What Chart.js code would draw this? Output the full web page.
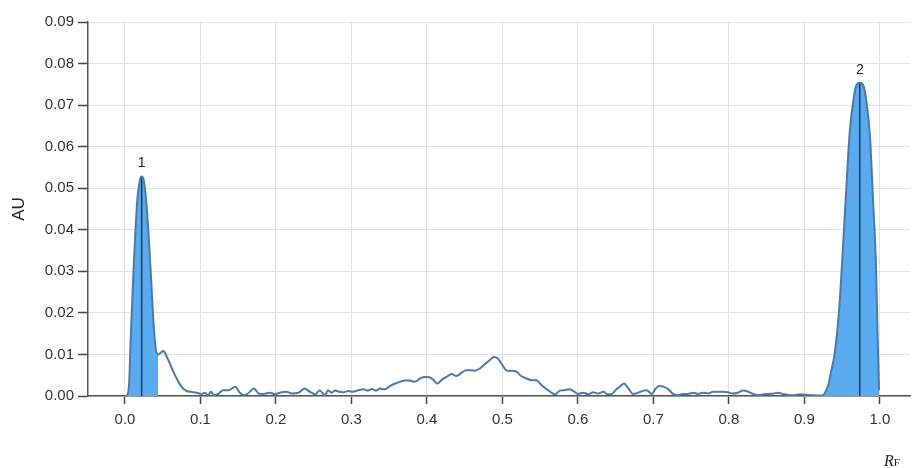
<!DOCTYPE html>
<html>
<head>
<meta charset="utf-8">
<script src="https://cdn.jsdelivr.net/npm/chart.js@4.4.1/dist/chart.umd.min.js"></script>
<style>
  html, body { margin: 0; padding: 0; background: #ffffff; }
  #wrap { width: 913px; height: 468px; position: relative; }
</style>
</head>
<body>
<div id="wrap"><canvas id="densito"></canvas></div>
<script>
// Densitogram scan: retardation factor (RF) vs absorbance units (AU)
const rfValues = [
  0.000, 0.003, 0.0057, 0.0075, 0.0102, 0.0132, 0.0163, 0.0199, 0.0221, 0.0252,
  0.0287, 0.0322, 0.0354, 0.0384, 0.041, 0.0441, 0.0473, 0.0508, 0.0552, 0.0618,
  0.0684, 0.075, 0.0817, 0.088, 0.095, 0.101, 0.106, 0.110, 0.114, 0.118,
  0.124, 0.130, 0.137, 0.146, 0.152, 0.157, 0.163, 0.171, 0.177, 0.183,
  0.192, 0.199, 0.205, 0.214, 0.221, 0.230, 0.238, 0.245, 0.252, 0.258,
  0.265, 0.269, 0.274, 0.278, 0.284, 0.289, 0.296, 0.302, 0.309, 0.316,
  0.321, 0.327, 0.333, 0.338, 0.344, 0.351, 0.358, 0.364, 0.371, 0.377,
  0.384, 0.391, 0.397, 0.403, 0.408, 0.414, 0.419, 0.426, 0.433, 0.439,
  0.446, 0.452, 0.458, 0.464, 0.470, 0.477, 0.483, 0.489, 0.494, 0.499,
  0.506, 0.512, 0.519, 0.525, 0.532, 0.539, 0.545, 0.552, 0.559, 0.565,
  0.570, 0.576, 0.582, 0.589, 0.593, 0.600, 0.607, 0.614, 0.620, 0.627,
  0.634, 0.638, 0.644, 0.651, 0.656, 0.661, 0.667, 0.673, 0.680, 0.687,
  0.691, 0.698, 0.703, 0.708, 0.714, 0.720, 0.726, 0.733, 0.739, 0.746,
  0.753, 0.759, 0.766, 0.773, 0.779, 0.786, 0.792, 0.799, 0.805, 0.812,
  0.819, 0.826, 0.832, 0.839, 0.846, 0.852, 0.859, 0.865, 0.874, 0.881,
  0.887, 0.894, 0.901, 0.910, 0.918, 0.925, 0.928, 0.932, 0.935, 0.940,
  0.946, 0.951, 0.956, 0.960, 0.965, 0.969, 0.9735, 0.978, 0.982, 0.987,
  0.991, 0.995, 0.997, 0.999
];
const auValues = [
  0.0000, 0.0002, 0.0038, 0.0135, 0.0255, 0.0375, 0.0472, 0.0520, 0.0528, 0.0516,
  0.0456, 0.0359, 0.0255, 0.0159, 0.0111, 0.0100, 0.0104, 0.0108, 0.0095, 0.0068,
  0.0042, 0.0022, 0.0012, 0.0010, 0.0008, 0.0005, 0.0008, 0.0002, 0.0010, 0.0002,
  0.0006, 0.0014, 0.0014, 0.0022, 0.0008, 0.0002, 0.0006, 0.0018, 0.0006, 0.0005,
  0.0008, 0.0004, 0.0008, 0.0010, 0.0006, 0.0008, 0.0018, 0.0010, 0.0004, 0.0013,
  0.0002, 0.0014, 0.0008, 0.0013, 0.0010, 0.0009, 0.0012, 0.0010, 0.0014, 0.0016,
  0.0013, 0.0017, 0.0013, 0.0018, 0.0016, 0.0024, 0.0030, 0.0034, 0.0037, 0.0037,
  0.0034, 0.0042, 0.0046, 0.0045, 0.0040, 0.0030, 0.0038, 0.0046, 0.0053, 0.0048,
  0.0056, 0.0062, 0.0062, 0.0061, 0.0066, 0.0077, 0.0086, 0.0094, 0.0090, 0.0077,
  0.0061, 0.0061, 0.0058, 0.0048, 0.0042, 0.0038, 0.0038, 0.0026, 0.0016, 0.0008,
  0.0004, 0.0013, 0.0014, 0.0016, 0.0013, 0.0005, 0.0008, 0.0004, 0.0009, 0.0006,
  0.0010, 0.0005, 0.0004, 0.0016, 0.0023, 0.0030, 0.0018, 0.0005, 0.0008, 0.0013,
  0.0014, 0.0005, 0.0018, 0.0024, 0.0022, 0.0016, 0.0005, 0.0002, 0.0005, 0.0005,
  0.0008, 0.0005, 0.0008, 0.0006, 0.0010, 0.0010, 0.0010, 0.0009, 0.0006, 0.0008,
  0.0013, 0.0010, 0.0005, 0.0002, 0.0004, 0.0005, 0.0006, 0.0008, 0.0004, 0.0002,
  0.0002, 0.0004, 0.0003, 0.0002, 0.0001, 0.0002, 0.0010, 0.0028, 0.0055, 0.0100,
  0.0205, 0.0351, 0.0512, 0.0632, 0.0712, 0.0748, 0.0754, 0.0748, 0.0712, 0.0624,
  0.0472, 0.0311, 0.0151, 0.0014
];

// Integrated peak windows (RF from/to) and their apex positions
const peakNames = ['1', '2'];
const peakStart = [0.003, 0.925];
const peakEnd = [0.0441, 0.999];
const peakApexRf = [0.0221, 0.9735];
const peakApexAu = [0.0528, 0.0754];

const xTicks = [0.0, 0.1, 0.2, 0.3, 0.4, 0.5, 0.6, 0.7, 0.8, 0.9, 1.0];
const xTickLabels = ['0.0', '0.1', '0.2', '0.3', '0.4', '0.5', '0.6', '0.7', '0.8', '0.9', '1.0'];
const yTicks = [0.00, 0.01, 0.02, 0.03, 0.04, 0.05, 0.06, 0.07, 0.08, 0.09];
const yTickLabels = ['0.00', '0.01', '0.02', '0.03', '0.04', '0.05', '0.06', '0.07', '0.08', '0.09'];

const trace = rfValues.map((x, i) => ({ x: x, y: auValues[i] }));

const LINE = '#4a7aa7';
const FILL = '#5aaaf0';
const APEX = '#1d3b5c';
const TEXT = '#333333';
const FONT = "'Liberation Sans', Arial, sans-serif";

const datasets = [{
  label: 'scan',
  data: trace,
  borderColor: LINE,
  borderWidth: 2,
  pointRadius: 0,
  fill: false,
  cubicInterpolationMode: 'monotone',
  order: 0
}];

peakNames.forEach((name, k) => {
  datasets.push({
    label: 'peak ' + name + ' area',
    data: trace.filter(p => p.x >= peakStart[k] && p.x <= peakEnd[k]),
    borderWidth: 0,
    borderColor: 'rgba(0,0,0,0)',
    backgroundColor: FILL,
    pointRadius: 0,
    fill: 'origin',
    cubicInterpolationMode: 'monotone',
    order: 2
  });
  datasets.push({
    label: 'peak ' + name + ' apex',
    data: [{ x: peakApexRf[k], y: 0 }, { x: peakApexRf[k], y: peakApexAu[k] }],
    borderColor: APEX,
    borderWidth: 1.5,
    pointRadius: 0,
    fill: false,
    order: 1
  });
});

// Peak numbers above each apex and the RF axis caption
const annotate = {
  id: 'annotate',
  afterDatasetsDraw(chart) {
    const { ctx, scales: { x, y } } = chart;
    ctx.save();
    ctx.fillStyle = '#222222';
    ctx.font = '14px ' + FONT;
    ctx.textAlign = 'center';
    ctx.textBaseline = 'bottom';
    peakNames.forEach((name, k) => {
      ctx.fillText(name, x.getPixelForValue(peakApexRf[k]), y.getPixelForValue(peakApexAu[k]) - 6);
    });
    ctx.restore();
  },
  afterDraw(chart) {
    const { ctx } = chart;
    ctx.save();
    ctx.fillStyle = '#222222';
    ctx.textBaseline = 'alphabetic';
    ctx.textAlign = 'left';
    ctx.font = 'italic 16px "Liberation Serif", "DejaVu Serif", serif';
    ctx.fillText('R', 884, 466);
    const w = ctx.measureText('R').width;
    ctx.font = '11px "Liberation Serif", "DejaVu Serif", serif';
    ctx.fillText('F', 884 + w, 466);
    ctx.restore();
  }
};

new Chart(document.getElementById('densito'), {
  type: 'line',
  data: { datasets: datasets },
  options: {
    responsive: true,
    maintainAspectRatio: false,
    animation: false,
    layout: { padding: { top: 22, right: 3, left: 0, bottom: 0 } },
    plugins: {
      legend: { display: false },
      tooltip: { enabled: false }
    },
    scales: {
      x: {
        type: 'linear',
        min: -0.049,
        max: 1.04,
        afterBuildTicks(s) { s.ticks = xTicks.map(v => ({ value: v })); },
        afterFit(s) { s.height = 72; },
        ticks: {
          padding: 7,
          color: TEXT,
          font: { family: FONT, size: 15 },
          maxRotation: 0,
          callback: (v, i) => xTickLabels[i]
        },
        grid: {
          color: '#e3e3e3',
          lineWidth: 1,
          tickLength: 8,
          tickColor: '#444444',
          tickWidth: 1.5
        },
        border: { display: true, color: '#555555', width: 1.5 }
      },
      y: {
        type: 'linear',
        min: 0,
        max: 0.09,
        afterBuildTicks(s) { s.ticks = yTicks.map(v => ({ value: v })); },
        afterFit(s) { s.width = 88; },
        ticks: {
          padding: 4,
          color: TEXT,
          font: { family: FONT, size: 15 },
          callback: (v, i) => yTickLabels[i]
        },
        grid: {
          color: '#e3e3e3',
          lineWidth: 1,
          tickLength: 10,
          tickColor: '#444444',
          tickWidth: 1.5
        },
        border: { display: true, color: '#555555', width: 1.5 },
        title: {
          display: true,
          text: 'AU',
          color: '#222222',
          font: { family: FONT, size: 17 },
          padding: { top: 9, bottom: 0 }
        }
      }
    }
  },
  plugins: [annotate]
});
</script>
</body>
</html>
